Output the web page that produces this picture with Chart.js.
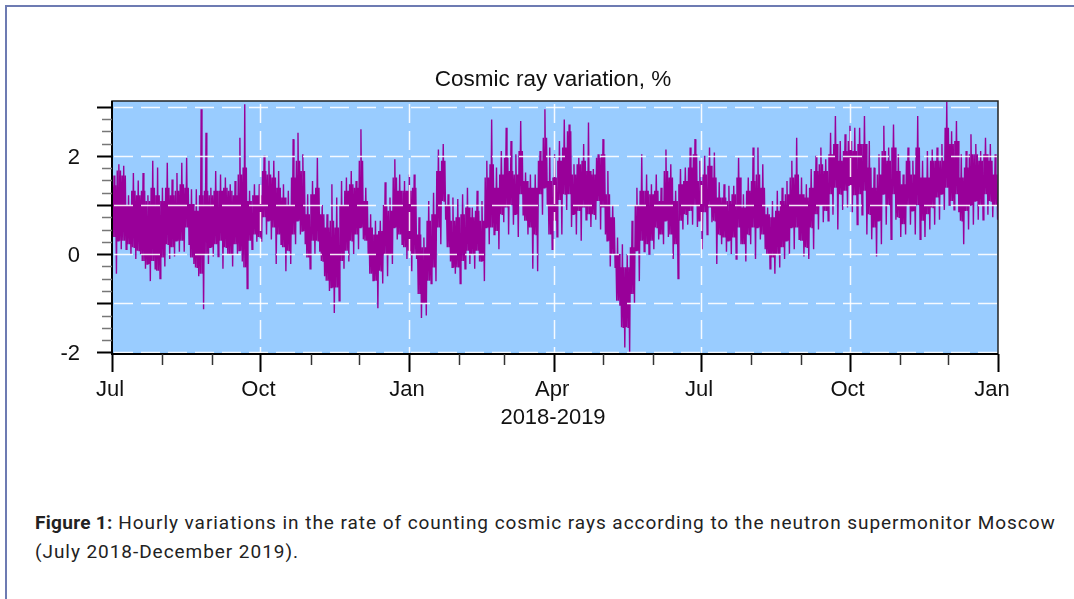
<!DOCTYPE html>
<html>
<head>
<meta charset="utf-8">
<script src="https://cdn.jsdelivr.net/npm/chart.js@4.4.1/dist/chart.umd.min.js"></script>
<style>
  html, body { margin: 0; padding: 0; width: 1074px; height: 599px; overflow: hidden; background: #fff; }
  #frame { position: absolute; left: 5px; top: 5px; width: 1200px; height: 800px; border: 2px solid #6d7bb2; box-sizing: border-box; }
  #chart { position: absolute; left: 0; top: 0; }
  #caption { position: absolute; left: 35px; top: 508px; font-family: Roboto, "Noto Sans", sans-serif; font-size: 19px; letter-spacing: 0.95px; line-height: 29px; color: #222; white-space: nowrap; }
  #caption b { font-weight: 700; letter-spacing: 0.3px; }
</style>
</head>
<body>
<div id="frame"></div>
<canvas id="chart" width="1074" height="440"></canvas>
<div id="caption"><b>Figure 1:</b> Hourly variations in the rate of counting cosmic rays according to the neutron supermonitor Moscow<br>(July 2018-December 2019).</div>
<script>
// Cosmic ray variation, %, neutron monitor Moscow, Jul 2018 - Dec 2019
// one entry per 3-day bin starting 1 Jul 2018 (183 bins)
const binDays = 3;
const peakVals = [1.6,1.83,1.8,1.2,1.65,1.5,1.65,1.2,1.9,1.76,1.35,1.86,1.52,1.65,1.86,1.96,1.32,1.32,2.95,2.47,
  1.35,1.69,1.62,1.56,1.42,1.49,2.37,3.05,1.29,1.42,1.42,2.0,1.9,1.9,1.69,1.42,1.29,2.34,2.47,2.03,
  1.22,1.49,1.96,1.0,0.81,1.42,1.15,1.49,1.56,1.69,1.49,2.54,1.35,0.81,0.68,0.68,1.46,1.15,1.93,1.62,
  1.49,1.62,1.62,0.75,0.34,1.08,1.25,2.13,2.24,1.22,1.15,1.12,1.22,1.35,0.95,1.29,1.08,1.9,2.74,1.76,
  2.1,2.57,2.3,2.03,2.71,1.66,1.62,1.62,2.1,2.95,2.17,2.03,2.3,2.74,2.64,1.83,1.96,2.24,2.68,1.73,
  2.03,2.34,1.69,1.0,0.34,0.2,0.0,0.68,1.35,2.03,1.62,1.42,1.62,1.35,2.13,1.83,1.29,1.73,1.76,2.17,
  2.34,1.9,2.0,2.17,2.07,1.46,1.42,1.39,1.39,1.96,1.22,1.56,2.17,2.17,1.83,0.95,1.08,1.29,1.35,1.49,
  1.9,2.37,1.56,1.42,1.73,2.0,2.17,1.93,2.47,2.81,2.3,2.44,2.61,2.57,2.57,2.81,2.3,1.76,2.03,2.61,
  2.17,2.64,2.03,1.62,2.17,1.9,2.81,1.9,2.1,2.13,2.17,2.24,3.1,2.5,2.71,2.03,2.1,2.44,2.24,2.1,
  2.37,2.24,2.03];
const coreHi = [1.4,1.7,1.6,1.0,1.29,1.2,1.29,1.08,1.35,1.2,1.08,1.35,1.2,1.29,1.42,1.35,1.02,0.88,1.2,1.29,
  1.2,1.29,1.29,1.35,1.29,1.2,1.62,1.76,1.08,1.2,1.2,1.69,1.62,1.56,1.35,1.15,1.0,1.56,1.9,1.69,
  0.81,1.22,1.35,0.81,0.54,0.68,0.54,1.0,1.29,1.42,1.35,1.9,1.08,0.54,0.4,0.47,1.0,0.88,1.56,1.29,
  1.29,1.29,1.35,0.4,0.14,0.68,0.81,1.69,1.9,1.0,0.68,0.75,0.81,0.95,0.75,0.88,0.68,1.56,1.83,1.35,
  1.62,1.96,1.69,1.62,2.1,1.49,1.35,1.35,1.9,2.37,1.49,1.56,1.9,2.17,2.5,1.62,1.83,1.9,1.69,1.62,
  1.96,2.03,1.22,0.75,0.0,-0.27,-0.27,0.14,1.0,1.29,1.29,1.22,1.29,1.08,1.69,1.56,1.08,1.42,1.49,1.76,
  2.03,1.49,1.62,1.8,1.56,1.15,1.15,1.08,1.22,1.56,0.95,1.29,1.49,1.62,1.35,0.81,0.75,0.88,1.08,1.22,
  1.56,1.62,1.22,1.15,1.35,1.69,1.83,1.69,2.03,2.24,1.9,2.1,2.3,2.1,2.24,2.24,1.76,1.35,1.62,2.1,
  1.9,2.17,1.69,1.42,1.9,1.62,2.17,1.56,1.56,1.9,1.9,1.9,2.57,2.24,2.3,1.56,1.76,2.03,2.03,1.9,
  2.03,1.9,1.62];
const coreLo = [0.35,0.27,0.27,0.2,0.14,0.07,-0.14,-0.2,-0.14,-0.34,-0.07,0.2,0.14,0.27,0.27,0.54,-0.07,-0.27,-0.4,0.0,
  0.14,0.2,0.27,0.14,0.0,0.2,0.07,-0.27,0.27,0.4,0.35,0.75,0.68,0.54,0.4,0.14,0.07,0.4,0.68,0.47,
  -0.07,0.27,0.27,-0.14,-0.54,-0.68,-0.68,-0.14,0.07,0.27,0.4,0.54,0.27,-0.4,-0.54,-0.34,0.0,0.0,0.54,0.4,
  0.14,0.07,0.0,-0.81,-1.0,-0.54,-0.27,0.54,1.08,0.14,-0.27,-0.27,-0.14,0.07,0.0,0.07,-0.14,0.54,0.54,0.47,
  0.81,0.95,1.0,0.81,1.22,0.68,0.54,0.4,1.22,1.35,0.4,0.68,1.1,1.22,1.22,0.81,0.88,0.95,0.81,0.81,
  1.08,0.95,0.27,0.0,-0.95,-1.49,-1.49,-0.81,0.07,0.27,0.2,0.27,0.54,0.4,0.68,0.4,0.2,0.68,0.81,0.88,
  1.0,0.68,0.85,0.95,0.68,0.4,0.34,0.27,0.34,0.54,0.2,0.4,0.54,0.54,0.4,0.0,-0.07,0.0,0.14,0.27,
  0.54,0.54,0.27,0.14,0.54,0.81,1.0,0.88,1.22,1.35,1.22,1.29,1.4,1.2,1.22,1.29,0.81,0.54,0.68,1.22,
  1.0,1.22,0.75,0.61,1.0,0.88,1.0,0.68,0.81,0.95,1.15,1.22,1.35,1.08,1.22,0.68,0.88,1.0,1.08,1.0,
  1.22,1.08,1.0];
const dipVals = [-0.4,0.1,0.1,0.0,-0.1,0.0,-0.3,-0.55,-0.3,-0.5,-0.25,-0.1,-0.05,0.05,0.05,0.2,-0.2,-0.45,-1.12,-0.2,
  -0.05,-0.05,-0.3,0.0,-0.25,0.0,-0.15,-0.7,0.1,0.25,0.25,0.4,0.3,-0.2,0.2,-0.35,-0.2,0.2,0.4,0.2,
  -0.3,0.0,0.05,-0.45,-0.75,-1.2,-0.95,-0.3,-0.15,0.0,0.1,0.3,0.0,-0.54,-1.1,-0.6,-0.45,-0.2,0.3,0.2,
  -0.1,-0.35,-0.1,-1.3,-1.25,-0.6,-0.55,0.2,0.7,-0.15,-0.4,-0.6,-0.3,-0.2,-0.3,-0.15,-0.55,0.2,0.4,0.1,
  0.65,0.4,0.6,0.35,0.8,0.4,-0.3,-0.35,0.8,1.0,0.1,0.35,0.4,0.9,0.55,0.4,0.27,0.7,0.55,0.7,
  0.5,0.4,-0.25,-0.27,-1.05,-1.9,-2.0,-1.0,-0.55,0.05,0.0,0.1,0.3,0.2,0.35,-0.1,-0.5,0.5,0.6,0.6,
  0.55,0.1,0.4,0.65,-0.2,0.2,0.05,0.0,-0.1,0.2,-0.15,0.2,-0.1,0.3,0.1,-0.3,-0.4,-0.27,-0.1,0.0,
  0.1,0.3,-0.05,-0.1,0.1,0.5,0.65,0.68,0.8,0.5,0.9,0.95,0.85,0.6,0.8,0.4,0.3,-0.05,0.2,0.6,
  0.3,0.7,0.35,0.4,0.6,0.4,0.3,0.35,0.5,0.6,0.7,0.9,1.0,0.9,0.85,0.2,0.5,0.6,0.7,0.7,
  0.8,0.75,0.7];

// axis: days since 1 Jul 2018
const totalDays = 549;
const monthDays = [0, 31, 62, 92, 123, 153, 184, 215, 243, 274, 304, 335, 365, 396, 427, 457, 488, 518, 549];
const quarterDays = [0, 92, 184, 274, 365, 457, 549];
const quarterLabels = ['Jul', 'Oct', 'Jan', 'Apr', 'Jul', 'Oct', 'Jan'];
const yMajor = [-2, -1, 0, 1, 2, 3];
const yLabelled = [2, 0, -2];
const yMin = -2.033, yMax = 3.116;

// each bin is drawn as a short zigzag through its core range and extremes
const order = [coreHi, coreLo, peakVals, coreLo, coreHi, dipVals];
const points = [];
for (let i = 0; i < peakVals.length; i++) {
  order.forEach((arr, k) => {
    points.push({ x: i * binDays + (k + 0.5) * binDays / order.length, y: arr[i] });
  });
}

const axesPlugin = {
  id: 'axesPlugin',
  beforeDatasetsDraw(chart) {
    const { ctx, chartArea: a } = chart;
    ctx.save();
    ctx.fillStyle = '#99ccff';
    ctx.fillRect(a.left, a.top, a.right - a.left, a.bottom - a.top);
    ctx.restore();
  },
  afterDatasetsDraw(chart) {
    const { ctx, chartArea: a, scales: { x, y } } = chart;
    ctx.save();

    // dashed grid on top of the data
    ctx.strokeStyle = 'rgba(255,255,255,0.9)';
    ctx.lineWidth = 1.5;
    ctx.setLineDash([19, 8]);
    yMajor.forEach(v => {
      const py = Math.round(y.getPixelForValue(v)) + 0.5;
      ctx.beginPath();
      ctx.moveTo(a.left + 2, py);
      ctx.lineTo(a.right, py);
      ctx.stroke();
    });
    quarterDays.slice(1, -1).forEach(d => {
      const px = Math.round(x.getPixelForValue(d)) + 0.5;
      ctx.beginPath();
      ctx.moveTo(px, a.top + 3);
      ctx.lineTo(px, a.bottom);
      ctx.stroke();
    });
    ctx.setLineDash([]);

    // frame
    ctx.strokeStyle = '#222';
    ctx.lineWidth = 1.5;
    ctx.strokeRect(a.left, a.top, a.right - a.left, a.bottom - a.top);
    ctx.strokeStyle = '#000';
    ctx.lineWidth = 2;
    ctx.beginPath();
    ctx.moveTo(a.left, a.top);
    ctx.lineTo(a.left, a.bottom);
    ctx.lineTo(a.right, a.bottom);
    ctx.stroke();

    // y ticks
    for (let v = -2; v <= 3.001; v += 0.25) {
      const py = Math.round(y.getPixelForValue(v)) + 0.5;
      const major = Math.abs(v - Math.round(v)) < 0.01;
      ctx.strokeStyle = major ? '#000' : '#777';
      ctx.lineWidth = major ? 2 : 1.5;
      ctx.beginPath();
      ctx.moveTo(a.left - (major ? 15 : 10), py);
      ctx.lineTo(a.left, py);
      ctx.stroke();
    }
    // x ticks
    monthDays.forEach(d => {
      const px = Math.round(x.getPixelForValue(d)) + 0.5;
      const major = quarterDays.includes(d);
      ctx.strokeStyle = major ? '#000' : '#333';
      ctx.lineWidth = major ? 2 : 1.5;
      ctx.beginPath();
      ctx.moveTo(px, a.bottom);
      ctx.lineTo(px, a.bottom + (major ? 18 : 11));
      ctx.stroke();
    });

    // labels
    ctx.fillStyle = '#111';
    ctx.font = '22px "Liberation Sans", Arial, sans-serif';
    ctx.textAlign = 'right';
    ctx.textBaseline = 'middle';
    yLabelled.forEach(v => {
      ctx.fillText(String(v), 80, y.getPixelForValue(v) + 2);
    });
    ctx.textAlign = 'center';
    quarterDays.forEach((d, i) => {
      const shift = i === quarterDays.length - 1 ? -6 : -2;
      ctx.fillText(quarterLabels[i], x.getPixelForValue(d) + shift, 390);
    });
    ctx.fillText('2018-2019', 553, 418);
    ctx.font = '22.5px "Liberation Sans", Arial, sans-serif';
    ctx.fillText('Cosmic ray variation, %', 553, 80);
    ctx.restore();
  }
};

new Chart(document.getElementById('chart'), {
  type: 'line',
  data: {
    datasets: [{
      data: points,
      borderColor: '#990099',
      borderWidth: 1.4,
      pointRadius: 0,
      tension: 0
    }]
  },
  options: {
    responsive: false,
    animation: false,
    devicePixelRatio: 1,
    layout: { padding: { left: 112, right: 76, top: 101, bottom: 86 } },
    plugins: { legend: { display: false }, tooltip: { enabled: false }, title: { display: false } },
    scales: {
      x: { type: 'linear', min: 0, max: totalDays, display: false },
      y: { type: 'linear', min: yMin, max: yMax, display: false }
    }
  },
  plugins: [axesPlugin]
});
</script>
</body>
</html>
